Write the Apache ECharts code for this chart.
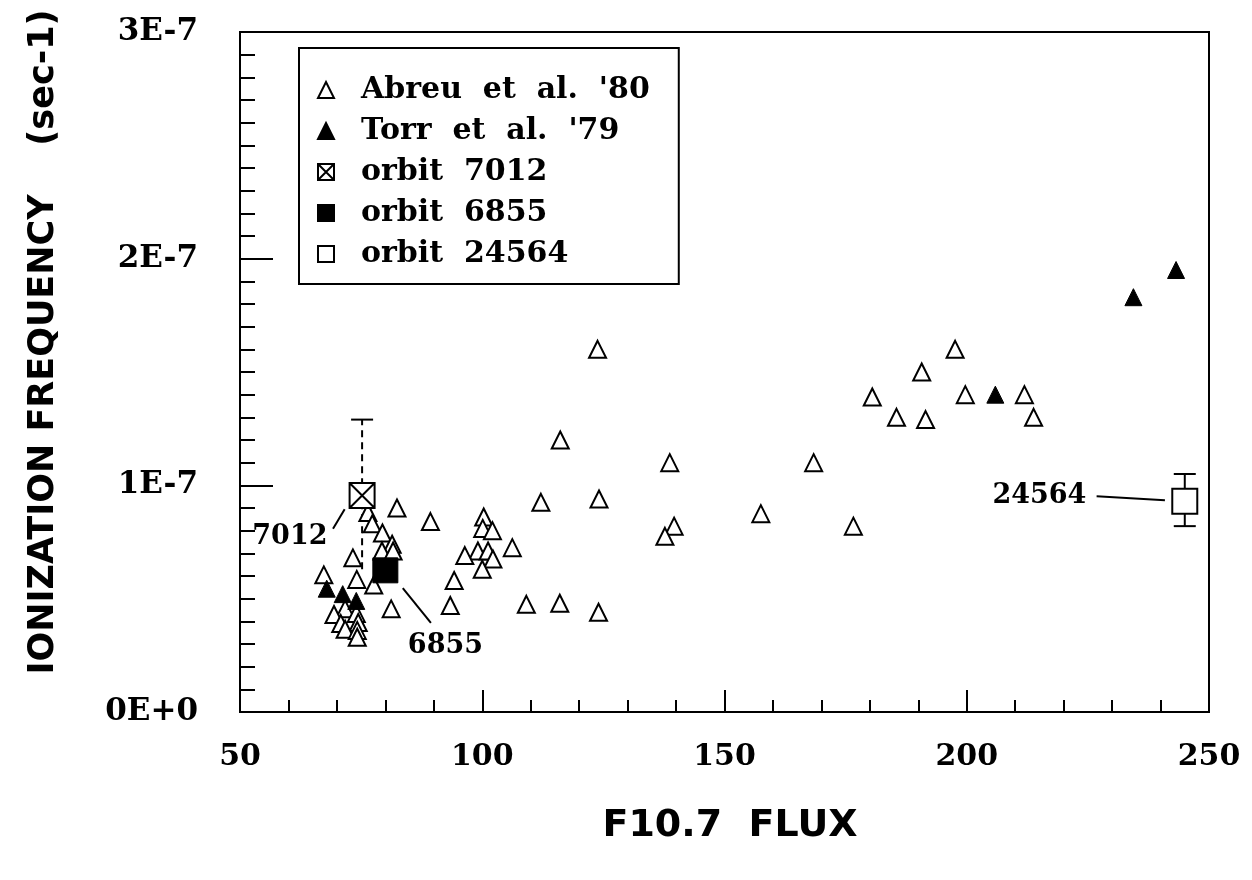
<!DOCTYPE html>
<html>
<head>
<meta charset="utf-8">
<script src="https://cdn.jsdelivr.net/npm/echarts@6/dist/echarts.min.js"></script>
<style>html,body{margin:0;padding:0;background:#fff}#c{width:1252px;height:880px}</style>
</head>
<body>
<div id="c"></div>
<script>
// Values: x = F10.7 flux, y = ionization frequency in units of 1E-7 sec-1
const abreuData = [
  [123.8, 1.60], [180.5, 1.39], [116.1, 1.20], [138.7, 1.10], [168.4, 1.10],
  [112.1, 0.925], [124.1, 0.94], [157.5, 0.875], [176.6, 0.82], [139.6, 0.82],
  [137.7, 0.775], [106.2, 0.725], [109.1, 0.475], [116.0, 0.48], [124.0, 0.44],
  [197.6, 1.60], [190.7, 1.50], [185.5, 1.30], [191.5, 1.29], [199.7, 1.40],
  [211.9, 1.40], [213.8, 1.30],
  [100.3, 0.86], [100.1, 0.81], [102.1, 0.80], [99.1, 0.71], [101.2, 0.71],
  [102.2, 0.675], [96.4, 0.69], [100.0, 0.63], [94.2, 0.58], [93.4, 0.47],
  [82.4, 0.90], [89.3, 0.84], [76.4, 0.88], [77.3, 0.83], [79.4, 0.79],
  [81.4, 0.74], [79.3, 0.71], [81.6, 0.71], [73.3, 0.68], [67.3, 0.605],
  [74.1, 0.585], [77.6, 0.56], [69.4, 0.43], [71.7, 0.455], [74.0, 0.435],
  [70.8, 0.39], [71.7, 0.365], [74.4, 0.395], [74.2, 0.36], [74.2, 0.33],
  [81.2, 0.455]
];
const torrData = [[67.9, 0.544], [71.2, 0.52], [74.0, 0.49], [205.9, 1.40], [234.4, 1.83], [243.2, 1.95]];
const orbit7012 = [[75.2, 0.955]];
const orbit6855 = [[80.0, 0.625]];
const orbit24564 = [[245.0, 0.93]];
const err7012 = [[75.2, 0.63, 1.29]];
const err24564 = [[245.0, 0.82, 1.05]];
const noteLabels = [[60.3, 0.77, '7012'], [92.4, 0.293, '6855'], [215.0, 0.951, '24564']];
const noteLeaders = [
  [[71.6, 0.895], [69.2, 0.808]],
  [[83.6, 0.547], [89.4, 0.393]],
  [[226.8, 0.952], [240.9, 0.934]]
];
const xTickLabels = ['50', '100', '150', '200', '250'];
const yTickLabels = ['0E+0', '1E-7', '2E-7', '3E-7'];
const seriesNames = ["Abreu  et  al.  '80", "Torr  et  al.  '79", 'orbit  7012', 'orbit  6855', 'orbit  24564'];

const serif = 'DejaVu Serif';
const sans = 'DejaVu Sans';
const crossSquare = 'path://M0,0L20,0L20,20L0,20Z M0,0L20,20 M20,0L0,20';

function errRender(dashed, bottomCap) {
  return function (params, api) {
    const x = api.value(0);
    const lo = api.coord([x, api.value(1)]);
    const hi = api.coord([x, api.value(2)]);
    const st = { stroke: '#000', lineWidth: 2, lineDash: dashed ? [7, 5] : null };
    const children = [
      { type: 'line', shape: { x1: lo[0], y1: lo[1], x2: hi[0], y2: hi[1] }, style: st },
      { type: 'line', shape: { x1: hi[0] - 11, y1: hi[1], x2: hi[0] + 11, y2: hi[1] }, style: { stroke: '#000', lineWidth: 2 } }
    ];
    if (bottomCap) {
      children.push({ type: 'line', shape: { x1: lo[0] - 11, y1: lo[1], x2: lo[0] + 11, y2: lo[1] }, style: { stroke: '#000', lineWidth: 2 } });
    }
    return { type: 'group', children: children };
  };
}

const sortedAbreu = abreuData.slice().sort((a, b) => b[1] - a[1]);

const chart = echarts.init(document.getElementById('c'), null, { renderer: 'canvas' });
chart.setOption({
  animation: false,
  backgroundColor: '#fff',
  grid: { left: 240, right: 43, top: 32, bottom: 168, show: true, borderColor: '#000', borderWidth: 2 },
  xAxis: {
    type: 'value', min: 50, max: 250, interval: 50,
    axisLine: { lineStyle: { color: '#000', width: 2 } },
    axisTick: { inside: true, length: 22, lineStyle: { color: '#000', width: 2 } },
    minorTick: { show: true, splitNumber: 5, length: 12, lineStyle: { color: '#000', width: 2 } },
    splitLine: { show: false },
    axisLabel: {
      margin: 30, color: '#000', fontFamily: serif, fontWeight: 'bold', fontSize: 30,
      formatter: v => xTickLabels[Math.round((v - 50) / 50)]
    }
  },
  yAxis: {
    type: 'value', min: 0, max: 3, interval: 1,
    axisLine: { lineStyle: { color: '#000', width: 2 } },
    axisTick: { inside: true, length: 33, lineStyle: { color: '#000', width: 2 } },
    minorTick: { show: true, splitNumber: 10, length: 15, lineStyle: { color: '#000', width: 2 } },
    splitLine: { show: false },
    axisLabel: {
      margin: 42, color: '#000', fontFamily: serif, fontWeight: 'bold', fontSize: 31,
      formatter: v => yTickLabels[Math.round(v)]
    }
  },
  legend: {
    data: seriesNames,
    orient: 'vertical',
    left: 299, top: 48,
    padding: [27, 29, 15, 18],
    itemWidth: 16, itemHeight: 16, itemGap: 11,
    borderColor: '#000', borderWidth: 2, backgroundColor: '#fff',
    textStyle: { color: '#000', fontFamily: serif, fontWeight: 'bold', fontSize: 30, lineHeight: 30, padding: [0, 0, 0, 22] },
    selectedMode: false
  },
  graphic: [
    {
      type: 'text', x: 44, y: 342, rotation: Math.PI / 2,
      style: { text: 'IONIZATION FREQUENCY    (sec-1)', fontFamily: sans, fontWeight: 'bold', fontSize: 35, fill: '#000', align: 'center', verticalAlign: 'middle' }
    },
    {
      type: 'text', x: 730, y: 826,
      style: { text: 'F10.7  FLUX', fontFamily: sans, fontWeight: 'bold', fontSize: 38, fill: '#000', align: 'center', verticalAlign: 'middle' }
    }
  ],
  series: [
    {
      name: 'err7012', type: 'custom', data: err7012, renderItem: errRender(true, false), z: 1, silent: true
    },
    {
      name: 'err24564', type: 'custom', data: err24564, renderItem: errRender(false, true), z: 1, silent: true
    },
    {
      name: 'leaders', type: 'lines', coordinateSystem: 'cartesian2d', silent: true, z: 1,
      data: noteLeaders.map(c => ({ coords: c })),
      lineStyle: { color: '#000', width: 2, opacity: 1 }
    },
    {
      name: seriesNames[0], type: 'scatter', data: sortedAbreu, symbol: 'triangle', symbolSize: 17, z: 2,
      itemStyle: { color: '#fff', borderColor: '#000', borderWidth: 2, opacity: 1 }
    },
    {
      name: seriesNames[1], type: 'scatter', data: torrData, symbol: 'triangle', symbolSize: 17, z: 3,
      itemStyle: { color: '#000', borderColor: '#000', borderWidth: 1, opacity: 1 }
    },
    {
      name: seriesNames[2], type: 'scatter', data: orbit7012, symbol: crossSquare, symbolSize: 25, z: 4,
      itemStyle: { color: '#fff', borderColor: '#000', borderWidth: 2, opacity: 1 }
    },
    {
      name: seriesNames[3], type: 'scatter', data: orbit6855, symbol: 'rect', symbolSize: 25, z: 4,
      itemStyle: { color: '#000', borderColor: '#000', borderWidth: 1, opacity: 1 }
    },
    {
      name: seriesNames[4], type: 'scatter', data: orbit24564, symbol: 'rect', symbolSize: 25, z: 4,
      itemStyle: { color: '#fff', borderColor: '#000', borderWidth: 2, opacity: 1 }
    },
    {
      name: 'notes', type: 'scatter', symbolSize: 0, silent: true, z: 5,
      itemStyle: { color: '#000', opacity: 1 },
      data: noteLabels.map(d => ({ value: [d[0], d[1]], name: d[2] })),
      label: { show: true, position: 'inside', formatter: '{b}', color: '#000', textBorderWidth: 0, opacity: 1, fontFamily: serif, fontWeight: 'bold', fontSize: 27 }
    }
  ]
});
</script>
</body>
</html>
